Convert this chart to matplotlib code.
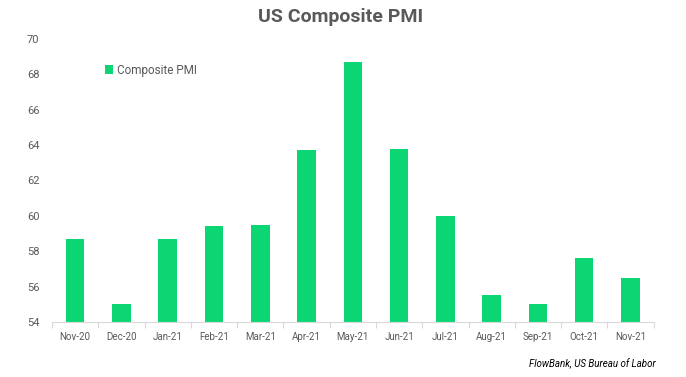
import matplotlib
matplotlib.use("Agg")
import matplotlib.pyplot as plt
import numpy as np

categories = ["Nov-20", "Dec-20", "Jan-21", "Feb-21", "Mar-21", "Apr-21", "May-21",
              "Jun-21", "Jul-21", "Aug-21", "Sep-21", "Oct-21", "Nov-21"]
values = [58.7, 55.0, 58.7, 59.4, 59.5, 63.7, 68.7, 63.8, 60.0, 55.5, 55.0, 57.6, 56.5]
yticks = [54, 56, 58, 60, 62, 64, 66, 68, 70]

plt.rcParams['font.family'] = ['Roboto', 'DejaVu Sans']

fig = plt.figure(figsize=(6.86, 3.77), dpi=100)
ax = fig.add_axes([0.0758, 0.146, 0.877, 0.7506])

x = np.arange(len(categories))
ax.bar(x, values, width=0.4, color="#0CD674", label="Composite PMI", zorder=2)

ax.set_xlim(-0.5, len(categories) - 0.5)
ax.set_ylim(54, 70)
ax.set_yticks(yticks)
ax.set_yticklabels([str(v) for v in yticks], fontsize=8, color="#595959")
ax.set_xticks(x)
ax.set_xticklabels(categories, fontsize=7, color="#595959")
ax.set_xticks(np.arange(-0.5, len(categories) + 0.5, 1), minor=True)
ax.tick_params(axis='x', which='major', length=0, pad=7)
ax.tick_params(axis='x', which='minor', length=4, color="#D9D9D9", width=0.8)
ax.tick_params(axis='y', length=0, pad=9)

for s in ["top", "right", "left"]:
    ax.spines[s].set_visible(False)
ax.spines["bottom"].set_color("#D9D9D9")
ax.spines["bottom"].set_linewidth(0.8)

leg = ax.legend(loc="upper left", bbox_to_anchor=(0.07, 0.95), frameon=False,
                fontsize=8.5, handlelength=0.7, handleheight=0.7, handletextpad=0.3)
for t in leg.get_texts():
    t.set_color("#595959")

fig.text(0.497, 0.955, "US Composite PMI", ha="center", va="center",
         fontsize=14, fontweight="bold", color="#595959")
fig.text(0.956, 0.035, "FlowBank, US Bureau of Labor", ha="right", va="center",
         fontsize=7, style="italic", color="#000000")

fig.savefig("out.png", dpi=100)
